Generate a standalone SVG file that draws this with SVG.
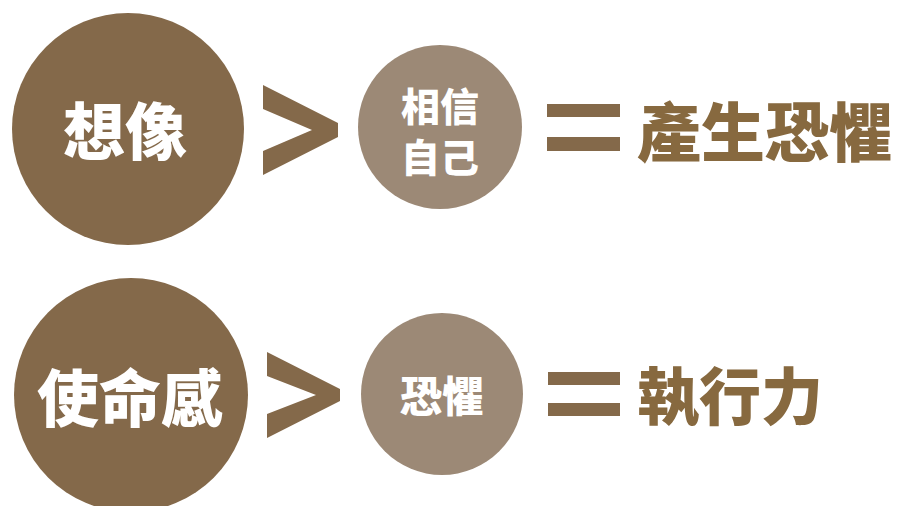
<svg xmlns="http://www.w3.org/2000/svg" width="900" height="506" viewBox="0 0 900 506">
<style>
.big{fill:#84694a}
.small{fill:#9c8976}
.sym{fill:#84694a}
.wt{fill:#ffffff;font-family:"Noto Sans CJK TC","Noto Sans CJK SC",sans-serif;font-weight:900;text-anchor:middle;dominant-baseline:central}
.bt{fill:#87693f;font-family:"Noto Sans CJK TC","Noto Sans CJK SC",sans-serif;font-weight:900;dominant-baseline:central}
</style>
<rect width="900" height="506" fill="#ffffff"/>
<g id="imagination">
<circle class="big" cx="128" cy="129" r="116"/>
<text class="wt" x="125" y="128" font-size="62">想像</text>
</g>
<g id="belief">
<circle class="small" cx="440" cy="127" r="82"/>
<text class="wt" x="440" y="104" font-size="39">相信</text>
<text class="wt" x="440" y="155" font-size="39">自己</text>
</g>
<g id="result1">
<text class="bt" x="637" y="128" font-size="64">產生恐懼</text>
</g>
<g id="mission">
<circle class="big" cx="131" cy="395" r="117"/>
<text class="wt" x="130" y="395" font-size="62">使命感</text>
</g>
<g id="fear">
<circle class="small" cx="442" cy="394" r="81"/>
<text class="wt" x="442" y="393" font-size="42">恐懼</text>
</g>
<g id="result2">
<text class="bt" x="637" y="393" font-size="62">執行力</text>
</g>
<g id="connectors">
<polygon class="sym" points="263,85 338,123 338,137 263,175 263,151 312,130 263,109"/>
<rect class="sym" x="547" y="104" width="73" height="13"/>
<rect class="sym" x="547" y="137" width="73" height="14"/>
<polygon class="sym" points="267,352 340,389 340,401 267,438 267,414 316,395 267,376"/>
<rect class="sym" x="548" y="372" width="72" height="13"/>
<rect class="sym" x="548" y="403" width="72" height="13"/>
</g>
</svg>
